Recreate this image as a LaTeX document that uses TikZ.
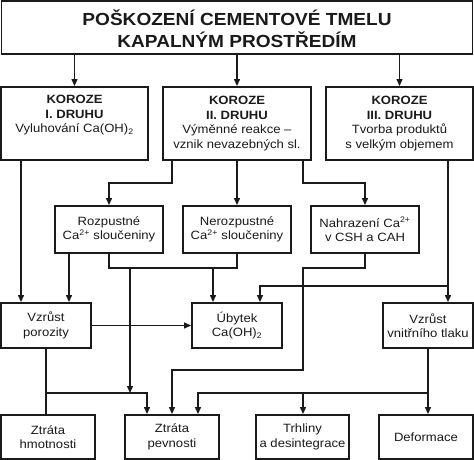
\documentclass[tikz,border=0pt]{standalone}
\usepackage{fontspec}
\setmainfont{Liberation Sans}[FakeStretch=1.09]
\usetikzlibrary{arrows.meta}
\definecolor{ink}{HTML}{1A1A1A}
\tikzset{
  box/.style={draw=ink, line width=1.9pt, align=center, inner sep=0pt, fill=white,
    font=\fontsize{12}{14.5}\selectfont, text=ink},
  conn/.style={draw=ink, line width=1.3pt},
  arr/.style={conn, -{Triangle[length=7pt,width=6pt]}},
}
\begin{document}
\begin{tikzpicture}[x=1pt,y=-1pt]
\useasboundingbox (0,0) rectangle (474,460);
% boxes
\node[box, minimum width=471pt, minimum height=53pt, font=\fontsize{17.5}{21}\selectfont\bfseries] (top) at (237,27.5)
  {\begin{tabular}{@{}c@{}}\rule{0pt}{24.5pt}POŠKOZENÍ CEMENTOVÉ TMELU\\KAPALNÝM PROSTŘEDÍM\end{tabular}};
\node[box, minimum width=147pt, minimum height=73pt] (k1) at (74.5,123.5)
  {\textbf{KOROZE}\\\textbf{I. DRUHU}\\Vyluhování Ca(OH)\textsubscript{2}\\\strut};
\node[box, minimum width=148pt, minimum height=73pt] (k2) at (237,123.5)
  {\textbf{KOROZE}\\\textbf{II. DRUHU}\\Výměnné reakce –\\vznik nevazebných sl.};
\node[box, minimum width=147pt, minimum height=73pt] (k3) at (399.5,123.5)
  {\textbf{KOROZE}\\\textbf{III. DRUHU}\\Tvorba produktů\\s velkým objemem};
\node[box, minimum width=108pt, minimum height=47pt] (roz) at (109,229.5)
  {Rozpustné\\Ca\textsuperscript{2+} sloučeniny};
\node[box, minimum width=108pt, minimum height=47pt] (neroz) at (237,229.5)
  {Nerozpustné\\Ca\textsuperscript{2+} sloučeniny};
\node[box, minimum width=108pt, minimum height=47pt] (nahr) at (365,229.5)
  {Nahrazení Ca\textsuperscript{2+}\\v CSH a CAH};
\node[box, minimum width=90pt, minimum height=45pt] (vp) at (46,325.5)
  {Vzrůst\\porozity};
\node[box, minimum width=90pt, minimum height=45pt] (uby) at (237,325.5)
  {Úbytek\\Ca(OH)\textsubscript{2}};
\node[box, minimum width=90pt, minimum height=45pt] (vvt) at (428,325.5)
  {Vzrůst\\vnitřního tlaku};
\node[box, minimum width=94pt, minimum height=44pt] (zh) at (48,437)
  {Ztráta\\hmotnosti};
\node[box, minimum width=94pt, minimum height=44pt] (zp) at (172,437)
  {Ztráta\\pevnosti};
\node[box, minimum width=93pt, minimum height=44pt] (tr) at (302.5,437)
  {Trhliny\\a desintegrace};
\node[box, minimum width=94pt, minimum height=44pt] (def) at (426,437)
  {Deformace};
% junction coordinates
\coordinate (r1) at (0,183);
\coordinate (r2) at (0,268);
\coordinate (r3) at (0,286);
\coordinate (r4) at (0,370);
\coordinate (r5) at (0,393);
% top -> koroze
\draw[arr] (top.south -| k1.north) -- (k1.north);
\draw[arr] (top.south -| k2.north) -- (k2.north);
\draw[arr] (top.south -| k3.north) -- (k3.north);
% koroze I
\draw[arr] (k1.south -| 21,0) -- (vp.north -| 21,0);
% koroze II
\draw[arr] (k2.south -| 172,0) -- (r1 -| 172,0) -| (roz.north);
\draw[arr] (k2.south) -- (neroz.north);
\draw[arr] (k2.south -| 303,0) -- (r1 -| 303,0) -| (nahr.north);
% koroze III
\draw[arr] (k3.south -| 448,0) -- (vvt.north -| 448,0);
\draw[arr] (r3 -| 448,0) -| (uby.north -| 260,0);
% rozpustne
\draw[arr] (roz.south -| 69,0) -- (vp.north -| 69,0);
\draw[conn] (roz.south) -- (r2 -| roz.south) -- (r2 -| neroz.south) -- (neroz.south);
\draw[arr] (r2 -| 213,0) -- (uby.north -| 213,0);
\draw[arr] (r2 -| 130,0) -- (r5 -| 130,0);
% vzrust porozity
\draw[arr] (vp.east) -- (uby.west);
\draw[conn] (vp.south) -- (zh.north -| vp.south);
\draw[arr] (r5 -| vp.south) -| (zp.north -| 147,0);
% nahrazeni
\draw[arr] (nahr.south) -- (r2 -| nahr.south) -- (r2 -| 303,0) -- (r4 -| 303,0) -| (zp.north);
% vnitrni tlak
\draw[arr] (vvt.south) -- (def.north -| vvt.south);
\draw[arr] (r5 -| vvt.south) -| (zp.north -| 198,0);
\draw[arr] (r5 -| 303,0) -- (tr.north -| 303,0);
\end{tikzpicture}
\end{document}
